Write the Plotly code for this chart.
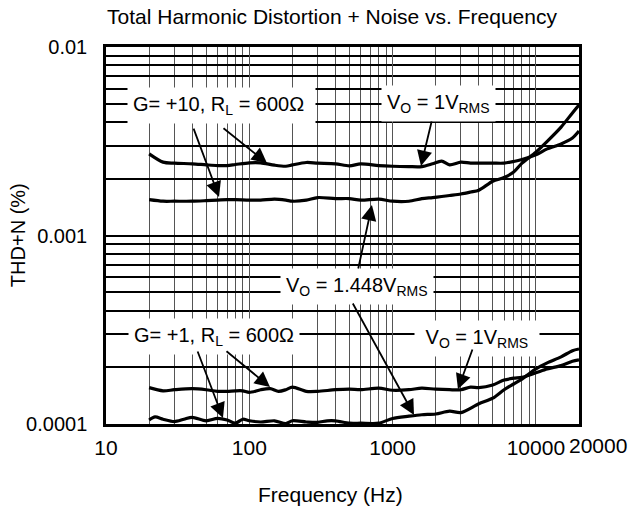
import math
import plotly.graph_objects as go

# ---- data (THD+N in %, frequency in Hz) ----
freq_a = [20, 25, 30, 40, 50, 60, 70, 80, 100, 120, 150, 180, 200, 250, 300, 400, 500, 600, 800, 1000,
          1300, 1600, 1900, 2200, 2500, 3000, 3500, 4000, 5000, 6000, 7000, 8000, 10000, 12000, 15000, 18000, 20000]
thd_a = [2.71, 2.45, 2.42, 2.40, 2.37, 2.35, 2.35, 2.38, 2.43, 2.43, 2.36, 2.33, 2.37, 2.44, 2.42, 2.40, 2.34, 2.40, 2.35, 2.33,
         2.32, 2.32, 2.40, 2.48, 2.37, 2.45, 2.42, 2.42, 2.42, 2.42, 2.47, 2.53, 2.68, 2.88, 3.06, 3.29, 3.58]
thd_a = [v * 1e-3 for v in thd_a]

freq_b = list(freq_a)
thd_b = [1.55, 1.52, 1.52, 1.52, 1.53, 1.54, 1.55, 1.55, 1.54, 1.54, 1.56, 1.54, 1.52, 1.54, 1.59, 1.57, 1.57, 1.54, 1.56, 1.52,
         1.52, 1.57, 1.59, 1.61, 1.63, 1.66, 1.70, 1.74, 1.94, 2.03, 2.17, 2.42, 2.77, 3.16, 3.76, 4.47, 4.92]
thd_b = [v * 1e-3 for v in thd_b]

freq_c = [20, 25, 30, 40, 50, 60, 70, 80, 90, 100, 120, 140, 160, 180, 200, 250, 300, 400, 500, 600,
          800, 1000, 1300, 1600, 2000, 2500, 3000, 3500, 4000, 5000, 6000, 7000, 8000, 10000, 12000, 15000, 18000, 20000]
thd_c = [1.56, 1.50, 1.52, 1.54, 1.52, 1.49, 1.49, 1.50, 1.50, 1.47, 1.52, 1.54, 1.49, 1.52, 1.57, 1.49, 1.49, 1.52, 1.53, 1.52,
         1.55, 1.51, 1.52, 1.55, 1.53, 1.52, 1.52, 1.57, 1.56, 1.61, 1.71, 1.75, 1.77, 1.87, 1.96, 2.04, 2.15, 2.19]
thd_c = [v * 1e-4 for v in thd_c]

freq_d = [20, 22, 25, 30, 35, 40, 50, 60, 70, 80, 90, 100, 120, 150, 180, 200, 250, 300, 350, 400,
          500, 600, 800, 1000, 1300, 1600, 2000, 2500, 3000, 4000, 5000, 6000, 7000, 8000, 10000, 12000, 15000, 18000, 20000]
thd_d = [1.05, 1.09, 1.06, 1.03, 1.06, 1.085, 1.04, 1.07, 1.05, 1.01, 1.06, 1.04, 1.025, 1.04, 1.006, 1.04, 1.025, 1.02, 1.04, 1.04,
         1.01, 1.01, 1.01, 1.07, 1.10, 1.12, 1.13, 1.17, 1.15, 1.28, 1.37, 1.52, 1.63, 1.73, 1.96, 2.11, 2.27, 2.45, 2.50]
thd_d = [v * 1e-4 for v in thd_d]

x_ticks = [10, 100, 1000, 10000]
x_ticktext = ["10", "100", "1000", "10000"]
x_minor = [20, 30, 40, 50, 60, 70, 80, 90, 200, 300, 400, 500, 600, 700, 800, 900,
           2000, 3000, 4000, 5000, 6000, 7000, 8000, 9000]
y_ticks = [0.0001, 0.001, 0.01]
y_ticktext = ["0.0001", "0.001", "0.01"]
y_minor = [2e-4, 3e-4, 4e-4, 5e-4, 6e-4, 7e-4, 8e-4, 9e-4,
           2e-3, 3e-3, 4e-3, 5e-3, 6e-3, 7e-3, 8e-3, 9e-3]

FONT = "Arial, Liberation Sans, Helvetica, sans-serif"

fig = go.Figure()
for fx, fy in [(freq_a, thd_a), (freq_b, thd_b), (freq_c, thd_c), (freq_d, thd_d)]:
    fig.add_trace(go.Scatter(x=fx, y=fy, mode="lines",
                             line=dict(color="black", width=3.2, shape="spline", smoothing=0.8),
                             showlegend=False, hoverinfo="skip"))

# labels (text boxes)
labels = [
    ("G= +10, R<sub>L</sub> = 600Ω ", 0.244, 0.846),
    ("V<sub>O</sub> = 1V<sub>RMS</sub>", 0.702, 0.849),
    ("V<sub>O</sub> = 1.448V<sub>RMS</sub>", 0.530, 0.365),
    ("G= +1, R<sub>L</sub> = 600Ω", 0.228, 0.231),
    (" V<sub>O</sub> = 1V<sub>RMS</sub> ", 0.784, 0.228),
]
for txt, px, py in labels:
    fig.add_annotation(text=txt, xref="paper", yref="paper", x=px, y=py,
                       xanchor="center", yanchor="middle", showarrow=False,
                       bgcolor="white", borderpad=5,
                       font=dict(family=FONT, size=20, color="black"))

# arrows: (tail freq, tail thd) -> (head freq, head thd)
arrows = [
    ((40.5, 3.76e-3), (61.5, 1.60e-3)),
    ((64.5, 3.76e-3), (133, 2.42e-3)),
    ((1884, 4.10e-3), (1578, 2.34e-3)),
    ((573, 6.56e-4), (718, 1.45e-3)),
    ((521, 4.44e-4), (1411, 1.116e-4)),
    ((43.2, 2.47e-4), (65.5, 1.076e-4)),
    ((67.7, 2.47e-4), (139.5, 1.57e-4)),
    ((3640, 2.53e-4), (2860, 1.53e-4)),
]
for (tf, tv), (hf, hv) in arrows:
    fig.add_annotation(x=math.log10(hf), y=math.log10(hv), ax=math.log10(tf), ay=math.log10(tv),
                       xref="x", yref="y", axref="x", ayref="y", text="", showarrow=True,
                       arrowhead=2, arrowsize=1.7, arrowwidth=1.8, arrowcolor="black",
                       standoff=0, startstandoff=0)

# extra x label at the right end
fig.add_annotation(text="20000", xref="x", yref="paper", x=math.log10(20000), y=0,
                   xanchor="center", yanchor="top", xshift=19, yshift=-8, showarrow=False,
                   font=dict(family=FONT, size=21, color="black"))
# axis titles
fig.add_annotation(text="Frequency (Hz)", xref="paper", yref="paper", x=0.4736, y=-0.188,
                   xanchor="center", yanchor="middle", showarrow=False,
                   font=dict(family=FONT, size=21, color="black"))
fig.add_annotation(text="THD+N (%)", xref="paper", yref="paper", x=-0.186, y=0.501,
                   xanchor="center", yanchor="middle", textangle=-90, showarrow=False,
                   font=dict(family=FONT, size=20, color="black"))

fig.update_layout(
    width=633, height=512,
    margin=dict(l=106, r=54, t=47, b=88),
    paper_bgcolor="white", plot_bgcolor="white",
    font=dict(family=FONT, size=20, color="black"),
    title=dict(text="Total Harmonic Distortion + Noise vs. Frequency", x=332 / 633, xanchor="center",
               y=1 - 17 / 512, yanchor="middle", font=dict(family=FONT, size=21, color="black")),
    showlegend=False,
)
fig.update_xaxes(type="log", range=[1, math.log10(20000)],
                 tickvals=x_ticks, ticktext=x_ticktext,
                 tickfont=dict(family=FONT, size=21, color="black"),
                 ticks="outside", ticklen=3, tickcolor="rgba(0,0,0,0)",
                 showgrid=True, gridcolor="#555555", gridwidth=1.3,
                 minor=dict(tickvals=x_minor, showgrid=True, gridcolor="#555555", gridwidth=1.3, ticks=""),
                 showline=True, linecolor="black", linewidth=2.5, mirror=True, zeroline=False)
fig.update_yaxes(type="log", range=[-4, -2],
                 tickvals=y_ticks, ticktext=y_ticktext,
                 tickfont=dict(family=FONT, size=20, color="black"),
                 ticks="outside", ticklen=12, tickcolor="rgba(0,0,0,0)",
                 showgrid=True, gridcolor="black", gridwidth=1.5,
                 minor=dict(tickvals=y_minor, showgrid=True, gridcolor="black", gridwidth=1.5, ticks=""),
                 showline=True, linecolor="black", linewidth=2.5, mirror=True, zeroline=False)

fig.write_html("out.html", config={"displayModeBar": False},
               post_script="document.body.style.margin='0';document.body.style.overflow='hidden';")
